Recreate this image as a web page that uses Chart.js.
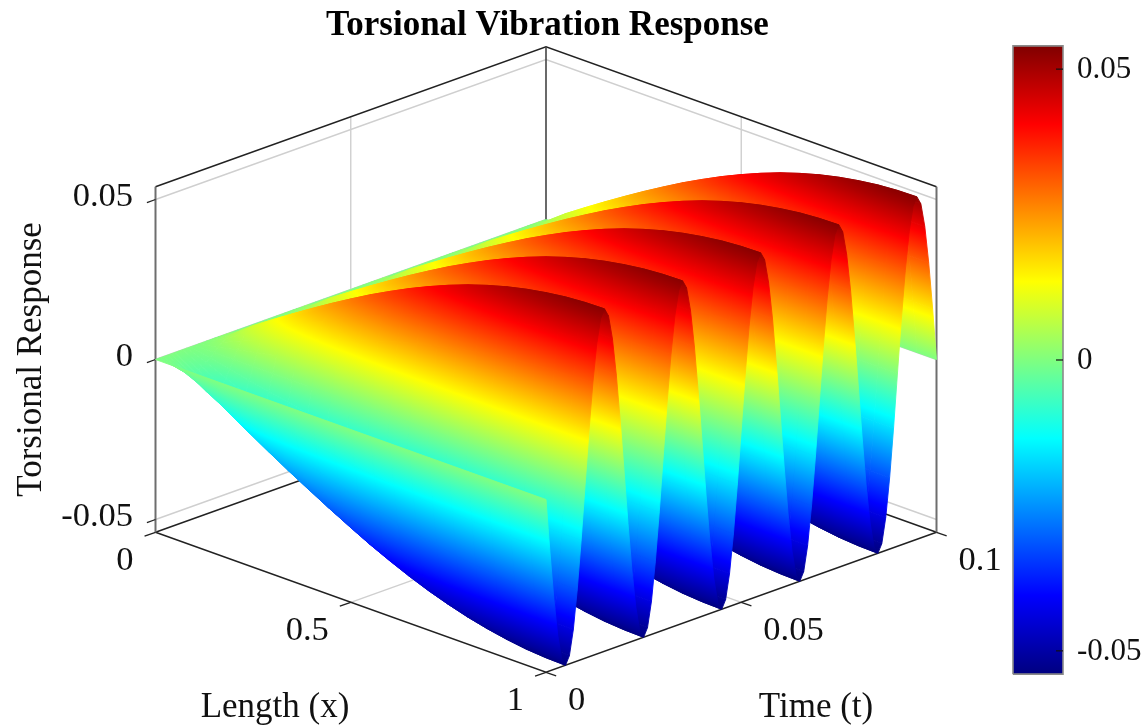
<!DOCTYPE html>
<html>
<head>
<meta charset="utf-8">
<title>Torsional Vibration Response</title>
<script src="https://cdn.jsdelivr.net/npm/chart.js@4/dist/chart.umd.min.js"></script>
<style>
  html, body { margin: 0; background: #fff; }
  canvas { display: block; }
</style>
</head>
<body>
<canvas id="surface" width="1148" height="725"></canvas>
<script>
// values
const lengthX = [0, 0.05, 0.1, 0.15, 0.2, 0.25, 0.3, 0.35, 0.4, 0.45, 0.5, 0.55, 0.6, 0.65, 0.7, 0.75, 0.8, 0.85, 0.9, 0.95, 1];
const spanShape = [0, 0.072, 0.158, 0.235, 0.31, 0.383, 0.454, 0.522, 0.588, 0.649, 0.707, 0.76, 0.809, 0.853, 0.891, 0.924, 0.951, 0.972, 0.988, 0.997, 1];
const timeT = [
  0, 0.001, 0.002, 0.003, 0.004, 0.005, 0.006, 0.007, 0.008, 0.009,
  0.01, 0.011, 0.012, 0.013, 0.014, 0.015, 0.016, 0.017, 0.018, 0.019,
  0.02, 0.021, 0.022, 0.023, 0.024, 0.025, 0.026, 0.027, 0.028, 0.029,
  0.03, 0.031, 0.032, 0.033, 0.034, 0.035, 0.036, 0.037, 0.038, 0.039,
  0.04, 0.041, 0.042, 0.043, 0.044, 0.045, 0.046, 0.047, 0.048, 0.049,
  0.05, 0.051, 0.052, 0.053, 0.054, 0.055, 0.056, 0.057, 0.058, 0.059,
  0.06, 0.061, 0.062, 0.063, 0.064, 0.065, 0.066, 0.067, 0.068, 0.069,
  0.07, 0.071, 0.072, 0.073, 0.074, 0.075, 0.076, 0.077, 0.078, 0.079,
  0.08, 0.081, 0.082, 0.083, 0.084, 0.085, 0.086, 0.087, 0.088, 0.089,
  0.09, 0.091, 0.092, 0.093, 0.094, 0.095, 0.096, 0.097, 0.098, 0.099,
  0.1
];
// response along the free end (x = 1)
const endResponse = [
  0, -0.0167, -0.0317, -0.0437, -0.0514, -0.054, -0.0514, -0.0437, -0.0317, -0.0167,
  0, 0.0164, 0.0312, 0.0429, 0.0504, 0.053, 0.0504, 0.0429, 0.0312, 0.0164,
  0, -0.0167, -0.0317, -0.0437, -0.0514, -0.054, -0.0514, -0.0437, -0.0317, -0.0167,
  0, 0.0164, 0.0312, 0.0429, 0.0504, 0.053, 0.0504, 0.0429, 0.0312, 0.0164,
  0, -0.0167, -0.0317, -0.0437, -0.0514, -0.054, -0.0514, -0.0437, -0.0317, -0.0167,
  0, 0.0164, 0.0312, 0.0429, 0.0504, 0.053, 0.0504, 0.0429, 0.0312, 0.0164,
  0, -0.0167, -0.0317, -0.0437, -0.0514, -0.054, -0.0514, -0.0437, -0.0317, -0.0167,
  0, 0.0164, 0.0312, 0.0429, 0.0504, 0.053, 0.0504, 0.0429, 0.0312, 0.0164,
  0, -0.0167, -0.0317, -0.0437, -0.0514, -0.054, -0.0514, -0.0437, -0.0317, -0.0167,
  0, 0.0164, 0.0312, 0.0429, 0.0504, 0.053, 0.0504, 0.0429, 0.0312, 0.0164,
  0
];
const lengthTicks = [0, 0.5, 1];
const timeTicks = [0, 0.05, 0.1];
const zTicks = [-0.05, 0, 0.05];
const zLimits = [-0.054, 0.054];
const barTicks = [-0.05, 0, 0.05];

const serif = '"Liberation Serif", "Times New Roman", serif';

// oblique view: h is pixels right of the left box edge, v is in response units
const project = (x, t, z) => ({
  x: 390.5 * x + 3905 * t + 0.5,
  y: z - (140 * x - 1400 * t) / 3200
});

const clamp01 = v => Math.max(0, Math.min(1, v));
const jet = z => {
  const v = (z - zLimits[0]) / (zLimits[1] - zLimits[0]);
  const r = clamp01(1.5 - Math.abs(4 * v - 3));
  const g = clamp01(1.5 - Math.abs(4 * v - 2));
  const b = clamp01(1.5 - Math.abs(4 * v - 1));
  return `rgb(${Math.round(r * 255)},${Math.round(g * 255)},${Math.round(b * 255)})`;
};

// knots of the colormap, where jet changes slope
const jetKnots = [0.125, 0.375, 0.625, 0.875].map(v => zLimits[0] + v * (zLimits[1] - zLimits[0]));

function linearPaint(ctx, x0, y0, x1, y1, zLo, zHi) {
  const g = ctx.createLinearGradient(x0, y0, x1, y1);
  g.addColorStop(0, jet(zLo));
  jetKnots.forEach(k => {
    if (k > zLo && k < zHi) g.addColorStop((k - zLo) / (zHi - zLo), jet(k));
  });
  g.addColorStop(1, jet(zHi));
  return g;
}

// gradient across one cell, lined up with the cell's constant-z direction
function cellPaint(chart, cell) {
  if (cell.paint) return cell.paint;
  if (!chart.chartArea) return '#000';   // scales not laid out yet
  const sx = chart.scales.x, sy = chart.scales.y;
  const p = cell.points.slice(0, 4).map(q => [sx.getPixelForValue(q.x), sy.getPixelForValue(q.y)]);
  const z = cell.z;
  const zLo = Math.min(...z), zHi = Math.max(...z);
  const ax = p[2][0] - p[0][0], ay = p[2][1] - p[0][1], az = z[2] - z[0];
  const bx = p[3][0] - p[1][0], by = p[3][1] - p[1][1], bz = z[3] - z[1];
  const det = ax * by - ay * bx;
  if (Math.abs(det) < 1e-3 || zHi - zLo < 1e-7) {
    cell.paint = jet((zLo + zHi) / 2);
    return cell.paint;
  }
  const gx = (az * by - ay * bz) / det;
  const gy = (ax * bz - az * bx) / det;
  const g2 = gx * gx + gy * gy;
  const cz = (z[0] + z[1] + z[2] + z[3]) / 4;
  const cx = (p[0][0] + p[1][0] + p[2][0] + p[3][0]) / 4;
  const cy = (p[0][1] + p[1][1] + p[2][1] + p[3][1]) / 4;
  cell.paint = linearPaint(chart.ctx,
    cx + (zLo - cz) * gx / g2, cy + (zLo - cz) * gy / g2,
    cx + (zHi - cz) * gx / g2, cy + (zHi - cz) * gy / g2,
    zLo, zHi);
  return cell.paint;
}

const edge = (points, color, width, axis) => ({
  data: points, borderColor: color, borderWidth: width, pointRadius: 0,
  fill: false, clip: false, yAxisID: axis || 'y'
});

const drawn = [];   // in painting order, far to near

// walls and floor grid
const GRID = '#cfcfcf', BOX = '#222', SIDE = '#6e6e6e';
const [zLo, zHi] = zLimits;
zTicks.forEach(z => {
  drawn.push(edge([project(0, 0, z), project(0, 0.1, z), project(1, 0.1, z)], GRID, 1.4));
});
drawn.push(edge([project(0, 0.05, zLo), project(0, 0.05, zHi)], GRID, 1.4));
drawn.push(edge([project(0.5, 0.1, zLo), project(0.5, 0.1, zHi)], GRID, 1.4));
drawn.push(edge([project(0, 0.05, zLo), project(1, 0.05, zLo)], GRID, 1.4));
drawn.push(edge([project(0.5, 0, zLo), project(0.5, 0.1, zLo)], GRID, 1.4));

// box
drawn.push(edge([project(0, 0, zHi), project(0, 0.1, zHi), project(1, 0.1, zHi)], BOX, 1.5));
drawn.push(edge([project(0, 0, zLo), project(0, 0.1, zLo), project(1, 0.1, zLo)], BOX, 1.5));
drawn.push(edge([project(0, 0, zLo), project(1, 0, zLo), project(1, 0.1, zLo)], BOX, 1.5));
drawn.push(edge([project(0, 0, zLo), project(0, 0, zHi)], SIDE, 2));
drawn.push(edge([project(0, 0.1, zLo), project(0, 0.1, zHi)], '#444', 1.6));
drawn.push(edge([project(1, 0.1, zLo), project(1, 0.1, zHi)], SIDE, 2));

// axis ticks, slanted along the floor directions
zTicks.forEach(z => {
  drawn.push(edge([project(0, 0, z), project(0, -0.0022, z)], BOX, 1.3));
});
lengthTicks.forEach(x => {
  drawn.push(edge([project(x, 0, zLo), project(x, -0.0028, zLo)], BOX, 1.3));
});
timeTicks.forEach(t => {
  drawn.push(edge([project(1, t, zLo), project(1.026, t, zLo)], BOX, 1.3));
});

// the surface, back cells first so nearer ones cover them
for (let j = timeT.length - 2; j >= 0; j--) {
  for (let i = 0; i < lengthX.length - 1; i++) {
    const corners = [[i, j], [i + 1, j], [i + 1, j + 1], [i, j + 1]];
    const z = corners.map(([a, b]) => spanShape[a] * endResponse[b]);
    const points = corners.map(([a, b], k) => project(lengthX[a], timeT[b], z[k]));
    points.push(points[0]);
    const cell = { points, z };
    drawn.push({
      data: points,
      fill: 'shape',
      borderWidth: 0.9,
      borderJoinStyle: 'round',
      pointRadius: 0,
      backgroundColor: c => cellPaint(c.chart, cell),
      borderColor: c => cellPaint(c.chart, cell)
    });
  }
}

// colorbar, on its own value axis
const barSpan = [858, 908];
const barCorners = [
  { x: barSpan[0], y: zLo }, { x: barSpan[1], y: zLo },
  { x: barSpan[1], y: zHi }, { x: barSpan[0], y: zHi }, { x: barSpan[0], y: zLo }
];
drawn.push({
  data: barCorners, yAxisID: 'y2', fill: 'shape', clip: false, pointRadius: 0,
  borderColor: '#8a8a8a', borderWidth: 1.6,
  backgroundColor: c => {
    if (!c.chart.chartArea) return '#000';
    const s = c.chart.scales.y2;
    return linearPaint(c.chart.ctx, 0, s.getPixelForValue(zLo), 0, s.getPixelForValue(zHi), zLo, zHi);
  }
});
barTicks.forEach(v => {
  drawn.push(edge([{ x: barSpan[1] - 7, y: v }, { x: barSpan[1], y: v }], '#111', 1.2, 'y2'));
});

const labels3d = {
  id: 'labels3d',
  afterLayout(chart) {
    // title is centred over the box rather than the page
    chart.titleBlock.left = 0;
    chart.titleBlock.right = 1095;
  },
  afterDatasetsDraw(chart) {
    const { ctx, scales: { x: sx, y: sy } } = chart;
    const at = p => [sx.getPixelForValue(p.x), sy.getPixelForValue(p.y)];
    ctx.save();
    ctx.fillStyle = '#111';
    ctx.font = `34.5px ${serif}`;
    ctx.textBaseline = 'middle';
    ctx.textAlign = 'right';
    lengthTicks.forEach(x => {
      const [px, py] = at(project(x, 0, zLo));
      ctx.fillText(String(x), px - 22, py + 29);
    });
    ctx.textAlign = 'left';
    timeTicks.forEach(t => {
      const [px, py] = at(project(1, t, zLo));
      ctx.fillText(String(t), px + 22, py + 29);
    });
    ctx.textAlign = 'center';
    ctx.font = `35px ${serif}`;
    ctx.fillText('Length (x)', 275, 708);
    ctx.fillText('Time (t)', 816, 708);
    ctx.restore();
  }
};

new Chart(document.getElementById('surface'), {
  type: 'line',
  data: { datasets: drawn.reverse() },
  plugins: [labels3d],
  options: {
    responsive: false,
    animation: false,
    devicePixelRatio: 1,
    events: [],
    layout: { padding: { bottom: 50 } },
    elements: { line: { tension: 0 } },
    plugins: {
      legend: { display: false },
      tooltip: { enabled: false },
      title: {
        display: true,
        text: 'Torsional Vibration Response',
        color: '#000',
        font: { size: 35, weight: 'bold', family: serif, lineHeight: 1.2 },
        padding: { top: 5, bottom: -3 }
      }
    },
    scales: {
      x: { type: 'linear', min: 0, max: 909, display: false },
      y: {
        position: 'left',
        min: -0.09859,
        max: 0.09859,
        afterFit: s => { s.width = 155; },
        afterBuildTicks: s => { s.ticks = zTicks.map(value => ({ value })); },
        border: { display: false },
        grid: { drawOnChartArea: false, drawTicks: false },
        ticks: { callback: v => String(v), color: '#111', padding: 22, labelOffset: -3, font: { size: 34.5, family: serif }, autoSkip: false, maxRotation: 0 },
        title: {
          display: true, text: 'Torsional Response', color: '#111',
          font: { size: 35, family: serif }, padding: { top: 11, bottom: 0 }
        }
      },
      y2: {
        position: 'right',
        min: -0.05415,
        max: 0.05432,
        afterFit: s => { s.width = 84; },
        afterBuildTicks: s => { s.ticks = barTicks.map(value => ({ value })); },
        border: { display: false },
        grid: { display: false, drawOnChartArea: false, drawTicks: false },
        ticks: { callback: v => String(v), color: '#111', padding: 13, labelOffset: 1, font: { size: 31, family: serif }, autoSkip: false, maxRotation: 0 }
      }
    }
  }
});
</script>
</body>
</html>
